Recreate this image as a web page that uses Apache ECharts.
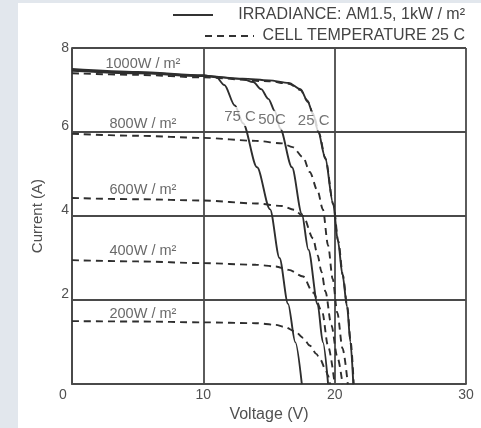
<!DOCTYPE html>
<html><head><meta charset="utf-8">
<script src="https://cdn.jsdelivr.net/npm/echarts@6/dist/echarts.min.js"></script>
<style>
html,body{margin:0;padding:0;width:481px;height:428px;overflow:hidden;background:#e2e7ed;}
#panel{position:absolute;left:18px;top:3px;width:463px;height:425px;background:#fff;}
#chart{position:absolute;left:0;top:0;width:481px;height:428px;}
</style></head><body>
<div id="panel"></div><div id="chart"></div>
<script>
// Axis ticks
const xTicks = [0, 10, 20, 30];
const yTicks = [0, 2, 4, 6, 8];

// Solid curves: irradiance 1000 W/m², cell temperature 25 / 50 / 75 C  [voltage V, current A]
const solid25C = [[0,7.46],[5,7.40],[10,7.33],[13,7.27],[15,7.23],[16.5,7.17],[17.4,7.02],[17.9,6.76],[18.35,6.44],[18.74,6.02],[19.27,5.40],[19.88,4.30],[20.25,3.40],[20.6,2.60],[20.94,1.85],[21.2,1.0],[21.42,0]];
const solid50C = [[0,7.48],[5,7.41],[10,7.34],[13,7.26],[13.8,7.19],[14.4,7.02],[14.95,6.79],[15.46,6.49],[15.84,6.09],[16.75,5.16],[17.5,4.05],[18.0,3.2],[18.7,1.9],[19.1,1.0],[19.5,0]];
const solid75C = [[0,7.50],[5,7.43],[10,7.35],[11,7.30],[11.6,7.12],[12.4,6.63],[13.02,6.21],[14.09,5.16],[15.08,4.16],[15.8,3.0],[16.45,1.91],[17.0,1.0],[17.5,0]];

// Dashed curves: cell temperature 25 C, irradiance 1000 / 800 / 600 / 400 / 200 W/m²
const dashed1000 = [[0,7.40],[5,7.36],[10,7.30],[15,7.21],[16.5,7.15],[17.4,7.0],[17.95,6.72],[18.4,6.40],[18.8,5.98],[19.3,5.36],[19.9,4.28],[20.28,3.40],[20.62,2.60],[20.96,1.85],[21.22,1.0],[21.45,0]];
const dashed800 = [[0,5.96],[5,5.91],[10,5.86],[14,5.79],[16,5.73],[16.8,5.64],[17.6,5.40],[18.1,5.05],[18.7,4.60],[19.1,4.16],[19.5,3.30],[19.85,2.50],[20.2,1.70],[20.6,0.85],[21.0,0]];
const dashed600 = [[0,4.43],[5,4.40],[10,4.37],[14,4.30],[16,4.24],[16.9,4.15],[17.6,4.0],[18.35,3.47],[18.7,3.07],[19.0,2.67],[19.3,2.2],[19.75,1.4],[20.2,0.65],[20.6,0]];
const dashed400 = [[0,2.95],[5,2.92],[10,2.88],[14,2.84],[15.5,2.80],[16.5,2.72],[17.6,2.56],[18.35,2.18],[19.05,1.72],[19.5,0.9],[20.0,0]];
const dashed200 = [[0,1.50],[5,1.49],[10,1.47],[14,1.45],[15.5,1.41],[16.2,1.36],[17.0,1.25],[17.6,1.10],[18.1,0.92],[18.6,0.72],[18.9,0.59],[19.3,0.35],[19.5,0.20],[19.65,0]];

// Curve annotations [voltage, current] anchors and their texts
const irradianceLabels = ['1000W / m²', '800W / m²', '600W / m²', '400W / m²', '200W / m²'];
const irradianceLabelV = [5.4, 5.4, 5.4, 5.4, 5.4];
const irradianceLabelI = [7.63, 6.19, 4.63, 3.16, 1.67];
const tempLabels = ['75 C', '50C', '25 C'];
const tempLabelV = [12.8, 15.23, 18.4];
const tempLabelI = [6.37, 6.28, 6.26];

const legendTexts = ['IRRADIANCE: AM1.5, 1kW / m²', 'CELL TEMPERATURE 25 C'];

const FONT = '"Liberation Sans", Arial, sans-serif';
const LINE = '#2e2e2e';
const GRID = '#4a4a4a';
const TXT = '#505050';

const chart = echarts.init(document.getElementById('chart'), null, {renderer: 'canvas'});

function curve(name, data, dashed) {
  return {
    name: name, type: 'line', data: data, showSymbol: false, symbol: 'none',
    smooth: 0.3, smoothMonotone: 'x', z: 3,
    lineStyle: {color: LINE, width: 1.9, type: dashed ? [7, 5] : 'solid'}
  };
}

const series = [
  curve('1000W 25C', solid25C, false),
  curve('1000W 50C', solid50C, false),
  curve('1000W 75C', solid75C, false),
  curve('1000W dashed', dashed1000, true),
  curve('800W', dashed800, true),
  curve('600W', dashed600, true),
  curve('400W', dashed400, true),
  curve('200W', dashed200, true),
  {
    name: 'irr labels', type: 'scatter', symbolSize: 0, z: 5,
    data: irradianceLabels.map((t, i) => ({name: t, value: [irradianceLabelV[i], irradianceLabelI[i]]})),
    label: {show: true, position: 'inside', formatter: '{b}', color: '#444', fontSize: 14.5, fontFamily: FONT}
  },
  {
    name: 'temp labels', type: 'scatter', symbolSize: 0, z: 6,
    data: tempLabels.map((t, i) => ({name: t, value: [tempLabelV[i], tempLabelI[i]]})),
    label: {show: true, position: 'inside', formatter: '{b}', color: '#505050', fontSize: 15, fontFamily: FONT,
            backgroundColor: '#fff', padding: [2, 1]}
  }
];

chart.setOption({
  animation: false,
  backgroundColor: 'transparent',
  grid: {left: 72, right: 15, top: 48, bottom: 36, containLabel: false},
  xAxis: {
    type: 'value', min: xTicks[0], max: xTicks[xTicks.length - 1], interval: xTicks[1] - xTicks[0],
    axisLine: {show: true, lineStyle: {color: GRID, width: 1.8}},
    axisTick: {show: false},
    splitLine: {show: true, lineStyle: {color: GRID, width: 1.8}},
    axisLabel: {
      color: TXT, fontSize: 14, fontFamily: FONT, margin: 4,
      formatter: v => v === 0 ? '{z|0}' : String(v),
      rich: {z: {color: TXT, fontSize: 14, fontFamily: FONT, padding: [0, 18, 0, 0]}}
    },
    name: 'Voltage (V)', nameLocation: 'middle', nameGap: 21,
    nameTextStyle: {color: TXT, fontSize: 16, fontFamily: FONT}
  },
  yAxis: {
    type: 'value', min: yTicks[0], max: yTicks[yTicks.length - 1], interval: yTicks[1] - yTicks[0],
    axisLine: {show: true, lineStyle: {color: GRID, width: 1.8}},
    axisTick: {show: false},
    splitLine: {show: true, lineStyle: {color: GRID, width: 1.8}},
    axisLabel: {
      color: TXT, fontSize: 14, fontFamily: FONT, margin: 3,
      formatter: v => v === 0 ? '' : (v === 8 ? '8' : '{u|' + v + '}'),
      rich: {u: {color: TXT, fontSize: 14, fontFamily: FONT, padding: [0, 0, 12, 0]}}
    },
    name: 'Current (A)', nameLocation: 'middle', nameGap: 27, nameRotate: 90,
    nameTextStyle: {color: TXT, fontSize: 15, fontFamily: FONT}
  },
  graphic: [
    {type: 'line', shape: {x1: 173, y1: 15, x2: 213, y2: 15}, style: {stroke: '#333', lineWidth: 1.8}},
    {type: 'text', x: 465, y: 15, style: {text: legendTexts[0], align: 'right', verticalAlign: 'middle', fill: '#444', font: '16px ' + FONT}},
    {type: 'line', shape: {x1: 205, y1: 36, x2: 254, y2: 36}, style: {stroke: '#333', lineWidth: 1.8, lineDash: [7, 5]}},
    {type: 'text', x: 465, y: 36, style: {text: legendTexts[1], align: 'right', verticalAlign: 'middle', fill: '#444', font: '16px ' + FONT}}
  ],
  series: series
});
</script>
</body></html>
